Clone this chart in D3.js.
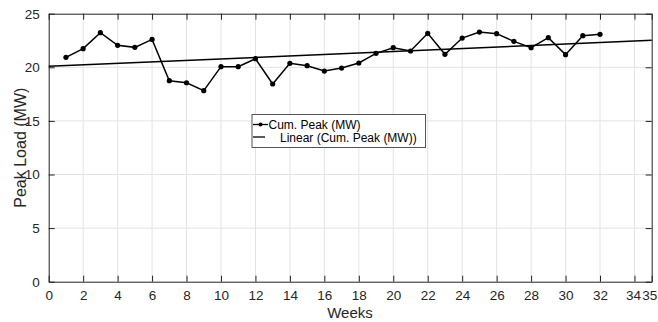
<!DOCTYPE html>
<html><head><meta charset="utf-8">
<script src="https://cdn.jsdelivr.net/npm/d3@7"></script>
<style>body{margin:0;background:#fff}svg{display:block}text{font-family:"Liberation Sans",Arial,sans-serif}</style>
</head><body><svg id="c" width="658" height="322"></svg>
<script>
const weeks = [1,2,3,4,5,6,7,8,9,10,11,12,13,14,15,16,17,18,19,20,21,22,23,24,25,26,27,28,29,30,31,32];
const cumPeak = [20.93,21.74,23.23,22.05,21.86,22.6,18.75,18.56,17.82,20.06,20.06,20.8,18.44,20.37,20.15,19.65,19.93,20.4,21.3,21.83,21.52,23.17,21.21,22.73,23.29,23.14,22.42,21.83,22.76,21.18,22.95,23.08];
const trendWeeks = [0,35];
const trendValues = [20.09,22.52];
const xTicks = [0,2,4,6,8,10,12,14,16,18,20,22,24,26,28,30,32,34,35];
const yTicks = [0,5,10,15,20,25];
const seriesNames = ["Cum. Peak (MW)","Linear (Cum. Peak (MW))"];

const svg = d3.select("#c");
const L=48.7,R=651.7,T=13.7,B=281.7;
const x = d3.scaleLinear().domain([0,35]).range([L,R]);
const y = d3.scaleLinear().domain([0,25]).range([B,T]);

// grid
const g = svg.append("g");
g.selectAll(".gx").data(xTicks.filter(d=>d>0&&d<35)).enter().append("line")
 .attr("x1",d=>x(d)).attr("x2",d=>x(d)).attr("y1",T).attr("y2",B).attr("stroke","#e3e3e3").attr("stroke-width",1);
g.selectAll(".gy").data(yTicks.filter(d=>d>0&&d<25)).enter().append("line")
 .attr("y1",d=>y(d)).attr("y2",d=>y(d)).attr("x1",L).attr("x2",R).attr("stroke","#e3e3e3").attr("stroke-width",1);

// axes
const tk=6;
svg.append("g").attr("transform",`translate(0,${B})`).call(d3.axisBottom(x).tickValues(xTicks).tickSizeInner(-tk).tickSizeOuter(0).tickPadding(9).tickFormat(d3.format("d")))
 .call(s=>{s.select(".domain").attr("stroke","#222");s.selectAll("line").attr("stroke","#222");
   s.selectAll("text").attr("font-size",13.5).attr("fill","#262626")
    .attr("dx",d=>d===35?"-2.5":d===34?"-1.5":"0");});
svg.append("g").attr("transform",`translate(0,${T})`).call(d3.axisTop(x).tickValues(xTicks).tickSizeInner(-tk).tickSizeOuter(0).tickFormat(""))
 .call(s=>{s.select(".domain").attr("stroke","#222");s.selectAll("line").attr("stroke","#222");});
svg.append("g").attr("transform",`translate(${L},0)`).call(d3.axisLeft(y).tickValues(yTicks).tickSizeInner(-tk).tickSizeOuter(0).tickPadding(9))
 .call(s=>{s.select(".domain").attr("stroke","#222");s.selectAll("line").attr("stroke","#222");s.selectAll("text").attr("font-size",13.5).attr("fill","#262626");});
svg.append("g").attr("transform",`translate(${R},0)`).call(d3.axisRight(y).tickValues(yTicks).tickSizeInner(-tk).tickSizeOuter(0).tickFormat(""))
 .call(s=>{s.select(".domain").attr("stroke","#222");s.selectAll("line").attr("stroke","#222");});

// labels
svg.append("text").attr("x",350).attr("y",317.5).attr("text-anchor","middle").attr("font-size",15).attr("fill","#262626").text("Weeks");
svg.append("text").attr("transform",`translate(25.5,${(T+B)/2}) rotate(-90)`).attr("text-anchor","middle").attr("font-size",16).attr("fill","#262626").text("Peak Load (MW)");

// trend
svg.append("path").datum(trendWeeks.map((w,i)=>[w,trendValues[i]]))
 .attr("d",d3.line().x(d=>x(d[0])).y(d=>y(d[1]))).attr("fill","none").attr("stroke","#000").attr("stroke-width",1.5);
// series
const pts = weeks.map((w,i)=>[w,cumPeak[i]]);
svg.append("path").datum(pts).attr("d",d3.line().x(d=>x(d[0])).y(d=>y(d[1]))).attr("fill","none").attr("stroke","#000").attr("stroke-width",1.5);
svg.selectAll(".pt").data(pts).enter().append("circle").attr("cx",d=>x(d[0])).attr("cy",d=>y(d[1])).attr("r",2.6).attr("fill","#000");

// legend
const lg = svg.append("g");
lg.append("rect").attr("x",252).attr("y",114.5).attr("width",173.5).attr("height",33).attr("fill","#fff").attr("stroke","#555").attr("stroke-width",1);
lg.append("line").attr("x1",253).attr("x2",268).attr("y1",124.5).attr("y2",124.5).attr("stroke","#000").attr("stroke-width",1.3);
lg.append("circle").attr("cx",260.5).attr("cy",124.5).attr("r",2).attr("fill","#000");
lg.append("text").attr("x",268.5).attr("y",129).attr("font-size",12).attr("fill","#000").text(seriesNames[0]);
lg.append("line").attr("x1",253).attr("x2",265).attr("y1",137).attr("y2",137).attr("stroke","#000").attr("stroke-width",1.3);
lg.append("text").attr("x",280).attr("y",141.5).attr("font-size",12).attr("fill","#000").text(seriesNames[1]);
</script></body></html>
